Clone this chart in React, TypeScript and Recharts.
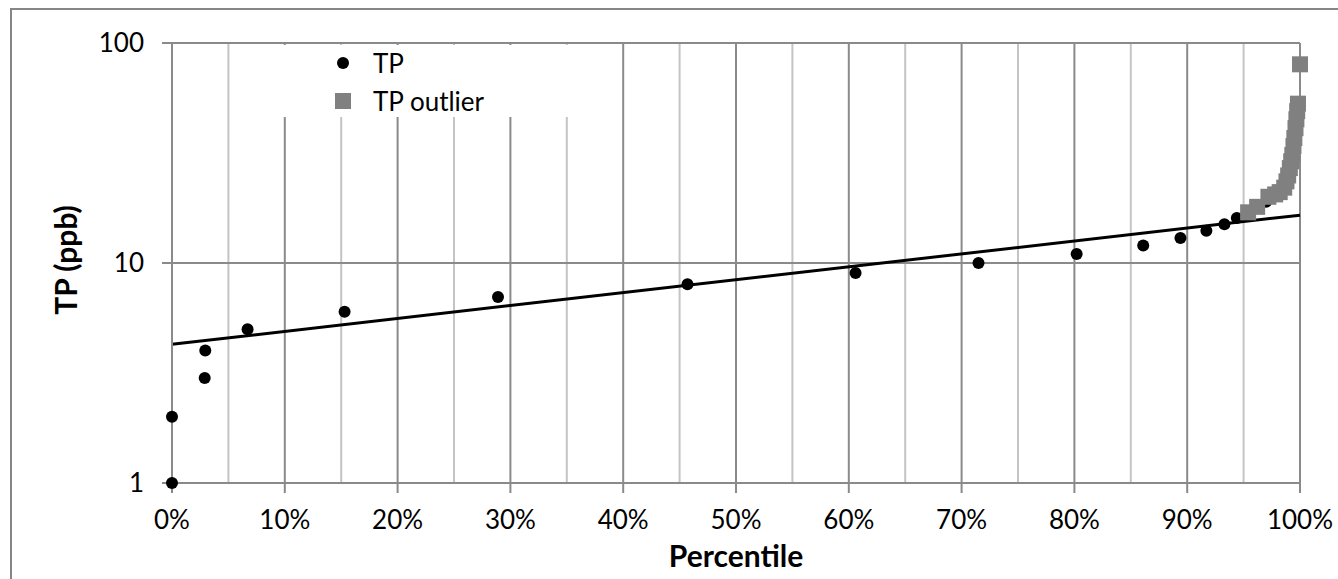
import {
  CartesianGrid,
  Legend,
  ReferenceLine,
  Scatter,
  ScatterChart,
  XAxis,
  YAxis,
} from "recharts";

// TP samples: percentile rank (%) and concentration (ppb)
const tpPercentile = [
  0, 0, 2.9, 2.95, 6.7, 15.3, 28.9, 45.7, 60.6, 71.5, 80.2, 86.1, 89.4, 91.7,
  93.3, 94.4, 95.6, 97.0, 98.3,
];
const tpValues = [
  1, 2, 3, 4, 5, 6, 7, 8, 9, 10, 11, 12, 13, 14, 15, 16, 17, 19, 21,
];

// outliers (gray squares)
const outlierPercentile = [
  95.4, 96.2, 97.2, 97.8, 98.2, 98.6, 98.8, 98.95, 99.1, 99.22, 99.32, 99.42,
  99.5, 99.6, 99.68, 99.75, 99.82, 100,
];
const outlierValues = [
  17, 18, 20, 20.5, 21, 22, 23.5, 25, 27, 29, 31, 34, 37, 41, 45, 49, 53, 80,
];

// exponential trendline end points (0% and 100%)
const trendX = [0, 100];
const trendY = [4.27, 16.5];

const xTicks = [0, 10, 20, 30, 40, 50, 60, 70, 80, 90, 100];
const xMinorTicks = [5, 15, 25, 35, 45, 55, 65, 75, 85, 95];
const yTicks = [1, 10, 100];

const tpData = tpPercentile.map((p, i) => ({ x: p, y: tpValues[i] }));
const outlierData = outlierPercentile.map((p, i) => ({
  x: p,
  y: outlierValues[i],
}));

const FONT = "Lato, 'Open Sans', sans-serif";
const GRID_MAJOR = "#8a8a8a";
const GRID_MINOR = "#c4c4c4";

const Dot = (props: any) => (
  <circle cx={props.cx} cy={props.cy} r={6} fill="#000" />
);

const Square = (props: any) => (
  <rect x={props.cx - 8} y={props.cy - 8} width={16} height={16} fill="#808080" />
);

const LegendBox = () => (
  <div
    style={{
      position: "relative",
      width: 320,
      height: 72,
      background: "#fff",
      fontFamily: FONT,
      fontSize: 26,
      color: "#000",
    }}
  >
    <svg width={40} height={72} style={{ position: "absolute", left: 43, top: 0 }}>
      <circle cx={20} cy={18} r={6} fill="#000" />
      <rect x={12} y={48} width={16} height={16} fill="#808080" />
    </svg>
    <div style={{ position: "absolute", left: 93, top: 3, lineHeight: "30px" }}>
      TP
    </div>
    <div style={{ position: "absolute", left: 93, top: 41, lineHeight: "30px" }}>
      TP outlier
    </div>
  </div>
);

export default function App() {
  return (
    <div
      style={{
        position: "absolute",
        left: 0,
        top: 0,
        width: 1338,
        height: 579,
        overflow: "hidden",
        background: "#fff",
      }}
    >
      <div
        style={{
          position: "absolute",
          left: 10,
          top: 8,
          width: 1400,
          height: 700,
          borderLeft: "2px solid #868686",
          borderTop: "2px solid #868686",
        }}
      />
      <div style={{ position: "absolute", left: 0, top: 0 }}>
        <ScatterChart
          width={1338}
          height={579}
          margin={{ top: 43, right: 38, bottom: 36, left: 72 }}
        >
          <CartesianGrid
            stroke={GRID_MINOR}
            strokeWidth={2}
            horizontal={false}
            verticalValues={xMinorTicks}
          />
          <CartesianGrid
            stroke={GRID_MAJOR}
            strokeWidth={2}
            verticalValues={xTicks}
            horizontalValues={yTicks}
          />
          <XAxis
            type="number"
            dataKey="x"
            domain={[0, 100]}
            ticks={xTicks}
            tickFormatter={(v: number) => `${v}%`}
            height={60}
            tickSize={10}
            tickMargin={18}
            axisLine={{ stroke: GRID_MAJOR, strokeWidth: 2 }}
            tickLine={{ stroke: GRID_MAJOR, strokeWidth: 2 }}
            tick={{ fill: "#000", fontSize: 26, fontFamily: FONT }}
            interval={0}
          />
          <YAxis
            type="number"
            dataKey="y"
            scale="log"
            domain={[1, 100]}
            ticks={yTicks}
            width={100}
            tickSize={10}
            tickMargin={18}
            axisLine={{ stroke: GRID_MAJOR, strokeWidth: 2 }}
            tickLine={{ stroke: GRID_MAJOR, strokeWidth: 2 }}
            tick={{ fill: "#000", fontSize: 26, fontFamily: FONT }}
            interval={0}
          />
          <ReferenceLine
            segment={[
              { x: trendX[0], y: trendY[0] },
              { x: trendX[1], y: trendY[1] },
            ]}
            stroke="#000"
            strokeWidth={3}
            ifOverflow="visible"
          />
          <Scatter
            name="TP"
            data={tpData}
            shape={Dot}
            isAnimationActive={false}
          />
          <Scatter
            name="TP outlier"
            data={outlierData}
            shape={Square}
            isAnimationActive={false}
          />
          <Legend
            layout="horizontal"
            align="center"
            verticalAlign="middle"
            content={LegendBox}
            wrapperStyle={{ left: 280, top: 45, width: 320, height: 72 }}
          />
        </ScatterChart>
      </div>
      <div
        style={{
          position: "absolute",
          left: 736,
          top: 540,
          transform: "translateX(-50%)",
          fontFamily: FONT,
          fontWeight: 700,
          fontSize: 30,
          lineHeight: "30px",
          whiteSpace: "nowrap",
        }}
      >
        Percentile
      </div>
      <div
        style={{
          position: "absolute",
          left: 65,
          top: 260,
          transform: "translate(-50%, -50%) rotate(-90deg)",
          fontFamily: FONT,
          fontWeight: 700,
          fontSize: 30,
          lineHeight: "30px",
          whiteSpace: "nowrap",
        }}
      >
        TP (ppb)
      </div>
    </div>
  );
}
